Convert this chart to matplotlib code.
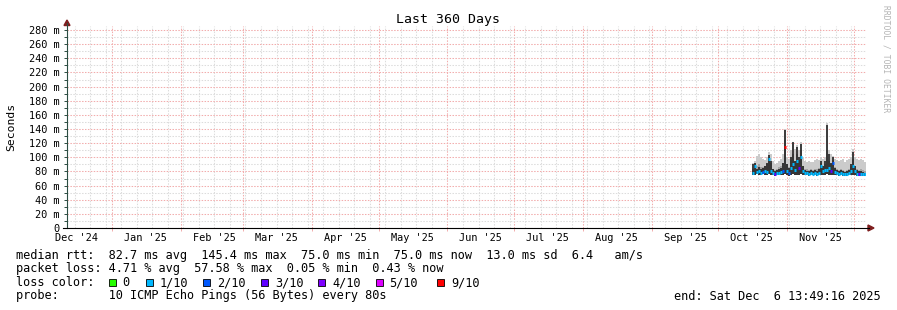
import numpy as np
import pandas as pd
import matplotlib
matplotlib.use("Agg")
import matplotlib.pyplot as plt
import matplotlib.dates as mdates
from matplotlib.patches import Rectangle, Polygon
from matplotlib.lines import Line2D

W, H = 897, 310
MONO = "DejaVu Sans Mono"

end_time = pd.Timestamp("2025-12-06 13:49:16")
start_time = end_time - pd.Timedelta(days=360)

# smokeping samples (one bin ~ 21.6 h), values in ms
first_sample = pd.Timestamp("2025-10-16 04:00")
bin_hours = 21.63
median_ms = [78, 88, 79, 80, 78, 79, 80, 79, 98, 80,
             78, 77, 78, 78, 79, 80, 115, 80, 78, 85,
             90, 82, 95, 85, 100, 80, 78, 78, 77, 78,
             77, 78, 77, 78, 88, 80, 82, 82, 85, 80,
             92, 79, 78, 77, 78, 77, 76, 77, 78, 80,
             88, 80, 77, 76, 77, 76, 76]
smoke_lo = [75, 75, 76, 75, 75, 76, 75, 75, 76, 75,
            75, 74, 75, 75, 75, 75, 76, 75, 74, 75,
            76, 75, 75, 75, 76, 75, 75, 75, 74, 75,
            75, 75, 74, 75, 75, 75, 75, 76, 75, 75,
            75, 75, 75, 74, 75, 74, 74, 74, 75, 75,
            75, 75, 74, 74, 74, 74, 73]
smoke_mid = [84, 90, 88, 90, 86, 86, 88, 90, 100, 92,
             84, 82, 84, 86, 88, 92, 125, 90, 86, 96,
             105, 95, 105, 96, 110, 88, 84, 83, 82, 84,
             82, 84, 84, 85, 92, 88, 90, 110, 95, 90,
             96, 86, 84, 82, 83, 82, 81, 82, 84, 88,
             98, 88, 84, 82, 83, 82, 80]
smoke_hi = [92, 95, 102, 105, 100, 98, 96, 100, 108, 104,
            95, 90, 92, 95, 98, 105, 140, 100, 97, 110,
            120, 112, 118, 110, 122, 100, 95, 94, 95, 94,
            93, 96, 97, 96, 100, 98, 100, 148, 110, 105,
            102, 98, 96, 95, 96, 97, 94, 96, 97, 100,
            112, 100, 97, 96, 97, 96, 94]
dark_top = [90, 92, 84, 86, 83, 85, 88, 92, 103, 95,
            84, 80, 82, 84, 85, 92, 138, 90, 85, 100,
            122, 95, 115, 100, 119, 88, 82, 80, 81, 82,
            80, 82, 80, 83, 95, 88, 95, 146, 105, 92,
            100, 85, 82, 80, 82, 80, 79, 80, 82, 90,
            108, 88, 82, 80, 80, 79, 78]
loss_tenths = [1, 1, 1, 1, 1, 2, 1, 1, 1, 1,
               1, 3, 1, 1, 1, 2, 9, 1, 2, 1,
               1, 1, 1, 3, 1, 1, 1, 1, 1, 1,
               1, 1, 1, 1, 1, 1, 1, 1, 1, 3,
               2, 1, 1, 1, 1, 1, 1, 1, 1, 1,
               1, 1, 1, 3, 1, 1, 1]

loss_levels = [0, 1, 2, 3, 4, 5, 9]
loss_labels = ["0", "1/10", "2/10", "3/10", "4/10", "5/10", "9/10"]
loss_colors = ["#26ff00", "#00b8ff", "#0059ff", "#5e00ff", "#7e00ff", "#dd00ff", "#ff0000"]

month_labels = ["Dec '24", "Jan '25", "Feb '25", "Mar '25", "Apr '25", "May '25",
                "Jun '25", "Jul '25", "Aug '25", "Sep '25", "Oct '25", "Nov '25"]

y_ticks = list(range(0, 281, 20))
y_labels = ["0"] + [f"{v} m" for v in y_ticks[1:]]

legend_rtt = "median rtt:  82.7 ms avg  145.4 ms max  75.0 ms min  75.0 ms now  13.0 ms sd  6.4   am/s"
legend_loss = "packet loss: 4.71 % avg  57.58 % max  0.05 % min  0.43 % now"
probe_text = "probe:       10 ICMP Echo Pings (56 Bytes) every 80s"
end_text = "end: Sat Dec  6 13:49:16 2025"

LEG_FS = 8.6


def fx(x):
    return x / W


def fy(y):
    return 1 - y / H


fig = plt.figure(figsize=(W / 100, H / 100), dpi=100)
fig.patch.set_facecolor("white")
ax = fig.add_axes([fx(67), 82 / H, 799 / W, 202 / H])
ax.set_facecolor("white")

n = len(median_ms)
times = first_sample + pd.to_timedelta(np.arange(n) * bin_hours, unit="h")
xs = mdates.date2num(times.to_pydatetime())
dx = bin_hours / 24

lo = np.array(smoke_lo)
ax.bar(xs, np.array(smoke_hi) - lo, bottom=lo, width=dx, align="edge",
       color="#cbcbcb", linewidth=0, zorder=2)
ax.bar(xs, np.array(smoke_mid) - lo, bottom=lo, width=dx, align="edge",
       color="#a4a4a4", linewidth=0, zorder=3)
ax.vlines(xs + dx * 0.5, lo, dark_top, colors="#151515", linewidth=1.1, zorder=4)
seg_colors = [loss_colors[loss_levels.index(l)] for l in loss_tenths]
ax.hlines(median_ms, xs, xs + dx, colors=seg_colors, linewidth=2.2, zorder=5)

ax.set_xlim(mdates.date2num(start_time.to_pydatetime()), mdates.date2num(end_time.to_pydatetime()))
ax.set_ylim(0, 285.7)

ax.xaxis.set_major_locator(mdates.MonthLocator())
ax.xaxis.set_minor_locator(mdates.WeekdayLocator(byweekday=mdates.SU))
ax.xaxis.set_major_formatter(plt.NullFormatter())
ax.set_yticks(y_ticks)
ax.set_yticks(range(10, 281, 20), minor=True)
ax.set_yticklabels(y_labels, fontfamily=MONO, fontsize=7.4)

ax.set_axisbelow(True)
dot = (0, (1.4, 1.4))
ax.grid(which="minor", color="#dcdcdc", linestyle=dot, linewidth=0.75)
ax.grid(which="major", color="#f2acac", linestyle=dot, linewidth=0.75)
ax.tick_params(axis="y", which="both", length=2.2, width=0.7, color="#2c4d43", pad=3)
ax.tick_params(axis="x", which="major", length=2.2, width=0.7, color="#f2acac")
ax.tick_params(axis="x", which="minor", length=0)
for s in ax.spines.values():
    s.set_visible(False)

for i, lab in enumerate(month_labels):
    mid = pd.Timestamp(year=2024 + (i + 11) // 12, month=(i + 11) % 12 + 1, day=16)
    ax.text(mdates.date2num(mid.to_pydatetime()), -14.5, lab, ha="center", va="center",
            fontfamily=MONO, fontsize=7.4, clip_on=False)

# axis lines and arrows
fig.add_artist(Line2D([fx(67), fx(67)], [fy(228), fy(23)], color="#2c4d43", linewidth=0.8))
fig.add_artist(Line2D([fx(63), fx(869)], [fy(228), fy(228)], color="black", linewidth=0.8))
fig.add_artist(Polygon([[fx(64), fy(25.5)], [fx(70), fy(25.5)], [fx(67), fy(20)]],
                       closed=True, color="#7f1f1f", transform=fig.transFigure))
fig.add_artist(Polygon([[fx(868), fy(225)], [fx(868), fy(231)], [fx(874), fy(228)]],
                       closed=True, color="#7f1f1f", transform=fig.transFigure))

fig.text(fx(448), fy(19), "Last 360 Days", ha="center", va="center", fontfamily=MONO, fontsize=9.5)
fig.text(fx(11), fy(127), "Seconds", ha="center", va="center", rotation=90,
         fontfamily=MONO, fontsize=8.2)
fig.text(fx(886), fy(59), "RRDTOOL / TOBI OETIKER", ha="center", va="center", rotation=270,
         fontfamily=MONO, fontsize=5.8, color="#b4b4b4")

fig.text(fx(16), fy(255), legend_rtt, ha="left", va="center", fontfamily=MONO, fontsize=LEG_FS)
fig.text(fx(16), fy(268.5), legend_loss, ha="left", va="center", fontfamily=MONO, fontsize=LEG_FS)
fig.text(fx(16), fy(282.5), "loss color:", ha="left", va="center", fontfamily=MONO, fontsize=LEG_FS)
fig.text(fx(16), fy(296), probe_text, ha="left", va="center", fontfamily=MONO, fontsize=LEG_FS)
fig.text(fx(881), fy(296), end_text, ha="right", va="center", fontfamily=MONO, fontsize=LEG_FS)

box_x = [108.5, 146, 203, 261, 318, 375.5, 437]
for bx, lab, col in zip(box_x, loss_labels, loss_colors):
    fig.add_artist(Rectangle((fx(bx), fy(285.5)), 7 / W, 7 / H, transform=fig.transFigure,
                             facecolor=col, edgecolor="black", linewidth=0.6))
    fig.text(fx(bx + 14), fy(282.5), lab, ha="left", va="center", fontfamily=MONO, fontsize=LEG_FS)

fig.savefig("out.png", dpi=100)
